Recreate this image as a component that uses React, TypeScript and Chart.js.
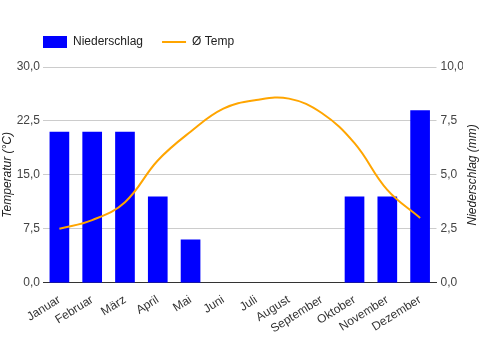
import React, { useEffect, useRef } from "react";
import { Chart, registerables } from "chart.js";

Chart.register(...registerables);

const months = ["Januar", "Februar", "März", "April", "Mai", "Juni", "Juli", "August", "September", "Oktober", "November", "Dezember"];
const precipitation = [7, 7, 7, 4, 2, 0, 0, 0, 0, 4, 4, 8];
const temperature = [7.5, 8.7, 11.2, 17.0, 21.0, 24.2, 25.4, 25.6, 23.6, 19.4, 12.9, 9.0];
const precipLabel = "Niederschlag";
const tempLabel = "Ø Temp";
const leftTitle = "Temperatur (°C)";
const rightTitle = "Niederschlag (mm)";

const FONT = '"Liberation Sans", Arial, sans-serif';

const fmt = (v: number) => Number(v).toFixed(1).replace(".", ",");

const legendPlugin = {
  id: "customLegend",
  afterDraw(chart: any) {
    const ctx = chart.ctx as CanvasRenderingContext2D;
    const area = chart.chartArea;
    const x0 = area.left;
    const cy = 42;
    ctx.save();
    ctx.font = `12px ${FONT}`;
    ctx.textBaseline = "middle";
    ctx.textAlign = "left";
    let x = x0;
    chart.data.datasets.forEach((ds: any) => {
      if (ds.type === "bar") {
        ctx.fillStyle = ds.backgroundColor;
        ctx.fillRect(x, cy - 6, 24, 12);
      } else {
        ctx.strokeStyle = ds.borderColor;
        ctx.lineWidth = 2;
        ctx.beginPath();
        ctx.moveTo(x, cy);
        ctx.lineTo(x + 24, cy);
        ctx.stroke();
      }
      ctx.fillStyle = "#222";
      ctx.fillText(ds.label, x + 30, cy);
      x += 30 + ctx.measureText(ds.label).width + 19;
    });
    // axis titles, both reading bottom to top
    ctx.font = `italic 12px ${FONT}`;
    ctx.textAlign = "center";
    ctx.textBaseline = "middle";
    ctx.fillStyle = "#222";
    const cyArea = (area.top + area.bottom) / 2;
    ctx.save();
    ctx.translate(8, cyArea);
    ctx.rotate(-Math.PI / 2);
    ctx.fillText(leftTitle, 0, 0);
    ctx.restore();
    ctx.save();
    ctx.translate(chart.width - 8.5, cyArea);
    ctx.rotate(-Math.PI / 2);
    ctx.fillText(rightTitle, 0, 0);
    ctx.restore();
    ctx.restore();
  },
};

export default function App() {
  const ref = useRef<HTMLCanvasElement | null>(null);
  useEffect(() => {
    if (!ref.current) return;
    Chart.defaults.font.family = FONT;
    Chart.defaults.font.size = 12;
    const chart = new Chart(ref.current, {
      type: "bar",
      data: {
        labels: months,
        datasets: [
          {
            type: "bar",
            label: precipLabel,
            data: precipitation,
            yAxisID: "y1",
            backgroundColor: "#0000FF",
            borderWidth: 0,
            barPercentage: 0.75,
            categoryPercentage: 0.8,
            order: 2,
          } as any,
          {
            type: "line",
            label: tempLabel,
            data: temperature,
            yAxisID: "y",
            borderColor: "#FFA500",
            backgroundColor: "#FFA500",
            borderWidth: 2,
            pointRadius: 0,
            tension: 0.4,
            fill: false,
            order: 1,
          } as any,
        ],
      },
      options: {
        responsive: false,
        animation: false,
        layout: { padding: { top: 67, left: 17, right: 18, bottom: 12 } },
        plugins: {
          legend: { display: false },
          tooltip: { enabled: false },
        },
        scales: {
          x: {
            grid: { display: false },
            border: { display: true, color: "#333", width: 1 },
            ticks: { color: "#333", minRotation: 32, maxRotation: 32, autoSkip: false, padding: 2 },
          },
          y: {
            position: "left",
            min: 0,
            max: 30,
            afterFit: (s: any) => { s.width = 26; },
            grid: { color: "#ccc", drawTicks: false },
            border: { display: false },
            ticks: { stepSize: 7.5, color: "#444", padding: 3, callback: (v: any) => fmt(v) },
          },
          y1: {
            position: "right",
            min: 0,
            max: 10,
            afterFit: (s: any) => { s.width = 26.5; },
            grid: { display: false, drawTicks: false },
            border: { display: false },
            ticks: { stepSize: 2.5, color: "#444", padding: 4, callback: (v: any) => fmt(v) },
          },
        },
      },
      plugins: [legendPlugin],
    });
    return () => chart.destroy();
  }, []);
  return (
    <div style={{ position: "absolute", left: 0, top: 0, width: 481, height: 350 }}>
      <canvas ref={ref} width={481} height={350} style={{ display: "block" }} />
    </div>
  );
}
